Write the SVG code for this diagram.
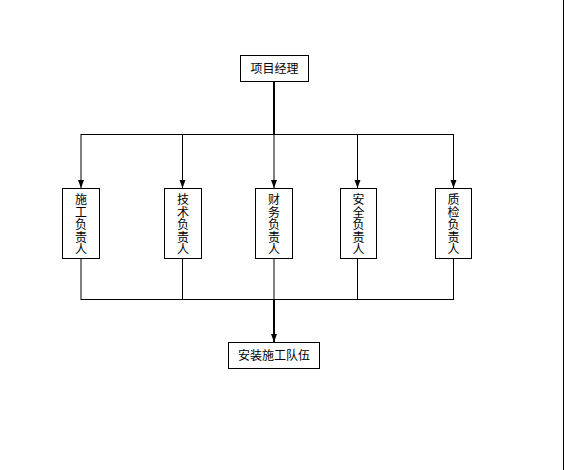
<svg xmlns="http://www.w3.org/2000/svg" width="564" height="470" viewBox="0 0 564 470">
<defs>
<style>
.box{fill:#fff;stroke:#000;stroke-width:1}
.ln{fill:none;stroke:#000;stroke-width:1}
.thick{fill:none;stroke:#000;stroke-width:2}
.t{font-family:"Noto Sans CJK SC","Liberation Sans",sans-serif;font-size:12px;fill:#000;text-anchor:middle}
</style>
<marker id="ah" viewBox="0 0 8 8" refX="8" refY="4" markerWidth="8" markerHeight="8" markerUnits="userSpaceOnUse" orient="auto">
<path d="M0,1 L8,4 L0,7 Z" fill="#000"/>
</marker>
</defs>
<rect width="564" height="470" fill="#fff"/>
<line x1="563.5" y1="0" x2="563.5" y2="470" stroke="#000" stroke-width="1"/>
<g id="connectors">
<line class="thick" x1="274" y1="82" x2="274" y2="134"/>
<line class="ln" x1="81" y1="134.5" x2="454" y2="134.5"/>
<line class="ln" x1="81" y1="134" x2="81" y2="188" marker-end="url(#ah)"/>
<line class="ln" x1="182.5" y1="134" x2="182.5" y2="188" marker-end="url(#ah)"/>
<line class="ln" x1="274" y1="134" x2="274" y2="188" marker-end="url(#ah)"/>
<line class="ln" x1="357.5" y1="134" x2="357.5" y2="188" marker-end="url(#ah)"/>
<line class="ln" x1="453.5" y1="134" x2="453.5" y2="188" marker-end="url(#ah)"/>
<line class="ln" x1="81" y1="259" x2="81" y2="300"/>
<line class="ln" x1="182.5" y1="259" x2="182.5" y2="300"/>
<line class="ln" x1="274" y1="259" x2="274" y2="300"/>
<line class="ln" x1="357.5" y1="259" x2="357.5" y2="300"/>
<line class="ln" x1="453.5" y1="259" x2="453.5" y2="300"/>
<line class="ln" x1="81" y1="299.5" x2="454" y2="299.5"/>
<line class="thick" x1="274" y1="300" x2="274" y2="342" marker-end="url(#ah)"/>
</g>
<g id="n-pm">
<rect class="box" x="240.5" y="55.5" width="68" height="26"/>
<text class="t" x="274.5" y="73">项目经理</text>
</g>
<g id="n-sg">
<rect class="box" x="62.5" y="188.5" width="37" height="70"/>
<text class="t"><tspan x="81" y="204">施</tspan><tspan x="81" y="216.6">工</tspan><tspan x="81" y="229.2">负</tspan><tspan x="81" y="241.8">责</tspan><tspan x="81" y="254.4">人</tspan></text>
</g>
<g id="n-js">
<rect class="box" x="164.5" y="188.5" width="37" height="70"/>
<text class="t"><tspan x="183" y="204">技</tspan><tspan x="183" y="216.6">术</tspan><tspan x="183" y="229.2">负</tspan><tspan x="183" y="241.8">责</tspan><tspan x="183" y="254.4">人</tspan></text>
</g>
<g id="n-cw">
<rect class="box" x="255.5" y="188.5" width="37" height="70"/>
<text class="t"><tspan x="274" y="204">财</tspan><tspan x="274" y="216.6">务</tspan><tspan x="274" y="229.2">负</tspan><tspan x="274" y="241.8">责</tspan><tspan x="274" y="254.4">人</tspan></text>
</g>
<g id="n-aq">
<rect class="box" x="340.5" y="188.5" width="36" height="70"/>
<text class="t"><tspan x="358.5" y="204">安</tspan><tspan x="358.5" y="216.6">全</tspan><tspan x="358.5" y="229.2">负</tspan><tspan x="358.5" y="241.8">责</tspan><tspan x="358.5" y="254.4">人</tspan></text>
</g>
<g id="n-zj">
<rect class="box" x="435.5" y="188.5" width="36" height="70"/>
<text class="t"><tspan x="453.5" y="204">质</tspan><tspan x="453.5" y="216.6">检</tspan><tspan x="453.5" y="229.2">负</tspan><tspan x="453.5" y="241.8">责</tspan><tspan x="453.5" y="254.4">人</tspan></text>
</g>
<g id="n-team">
<rect class="box" x="228.5" y="342.5" width="91" height="26"/>
<text class="t" x="274" y="360">安装施工队伍</text>
</g>
</svg>
